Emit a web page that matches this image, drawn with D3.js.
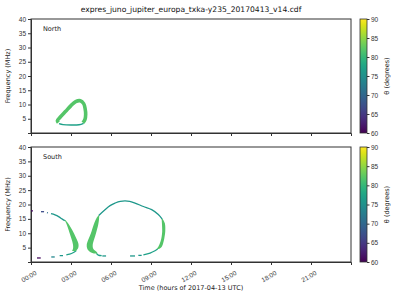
<!DOCTYPE html>
<html>
<head>
<meta charset="utf-8">
<script src="https://cdn.jsdelivr.net/npm/d3@7"></script>
<style>
  body { margin: 0; background: #fff; }
  svg { display: block; font-family: "DejaVu Sans", sans-serif; }
  .axis text { font-size: 6.5px; fill: #333; }
  .axis path, .axis line { stroke: #333; }
</style>
</head>
<body>
<svg id="chart" width="400" height="300"></svg>
<script>
// ---- data ----
const timeTicks  = [0, 3, 6, 9, 12, 15, 18, 21];          // hours
const freqTicks  = [5, 10, 15, 20, 25, 30, 35, 40];       // MHz
const thetaTicks = [60, 65, 70, 75, 80, 85, 90];          // degrees

// North: emission loop, [hour, MHz]
const northLoop = [
  [2.05, 3.6], [1.98, 4.3], [2.2, 5.6], [2.6, 7.6], [3.0, 9.6], [3.35, 11.0],
  [3.7, 11.3], [3.95, 10.3], [4.06, 8.5], [4.1, 6.5], [4.05, 4.8], [3.9, 3.6]
];
const northLoopTheta = 82;
const northBottom = [[2.1, 3.3], [2.4, 2.95], [3.0, 2.8], [3.6, 2.9], [3.95, 3.4]];
const northBottomTheta = 77;

// South: thick parts as frequency bands [MHz, hourStart, hourEnd]
const southBandA = [
  [14.6, 2.52, 2.58], [13.5, 2.64, 2.78], [12.0, 2.76, 2.98], [10.0, 2.9, 3.22],
  [8.0, 3.04, 3.42], [6.3, 3.14, 3.56], [4.9, 3.16, 3.54], [3.8, 3.08, 3.36]
];
const southBandB = [
  [16.2, 5.04, 5.12], [14.8, 4.86, 5.1], [13.0, 4.7, 5.04], [10.1, 4.5, 4.88],
  [7.8, 4.3, 4.73], [6.0, 4.18, 4.63], [4.6, 4.22, 4.67], [3.5, 4.43, 4.93], [3.0, 4.7, 5.0]
];
const southBandC = [
  [15.0, 9.8, 9.88], [13.5, 9.82, 10.04], [10.6, 9.84, 10.07], [8.9, 9.8, 10.02],
  [7.2, 9.72, 9.95], [5.4, 9.56, 9.82], [4.5, 9.42, 9.6]
];
const southBandTheta = 82;

// South: thin traces, each with its theta
const southTraces = [
  { theta: 61, pts: [[0.0, 17.8], [0.15, 17.8]] },
  { theta: 67, pts: [[0.75, 17.5], [0.98, 17.5]] },
  { theta: 71, pts: [[1.2, 17.2], [1.27, 17.1]] },
  { theta: 76, pts: [[1.5, 16.8], [1.8, 16.4], [2.1, 15.7], [2.35, 14.9], [2.54, 14.4]] },
  { theta: 77, pts: [[3.4, 4.0], [3.15, 3.2], [2.9, 2.75], [2.65, 2.5]] },
  { theta: 76, pts: [[2.15, 2.2], [2.4, 2.25]] },
  { theta: 74, pts: [[1.52, 1.75], [1.78, 1.75]] },
  { theta: 61, pts: [[0.45, 1.4], [0.73, 1.4]] },
  { theta: 76, pts: [[5.08, 16.2], [5.55, 18.2], [5.93, 19.6], [6.3, 20.5], [6.7, 21.1],
                     [7.4, 21.1], [7.8, 20.5], [8.43, 19.3], [9.05, 18.2], [9.55, 16.5], [9.84, 14.9]] },
  { theta: 77, pts: [[9.5, 4.5], [9.3, 3.9], [8.93, 3.1], [8.43, 2.5]] },
  { theta: 76, pts: [[8.05, 2.3], [8.3, 2.3]] },
  { theta: 76, pts: [[7.43, 2.1], [7.8, 2.1]] },
  { theta: 77, pts: [[4.9, 3.0], [5.05, 2.4], [5.3, 2.2]] },
  { theta: 76, pts: [[5.35, 2.1], [5.63, 2.1]] }
];

// ---- layout ----
const svg = d3.select('#chart');
const left = 31, right = 351;
const panels = [
  { name: 'North', top: 19, bottom: 133 },
  { name: 'South', top: 147, bottom: 262 }
];
const cbX = 360, cbW = 7;

const x = d3.scaleLinear().domain([0, 24]).range([left, right]);
const color = d3.scaleSequential(d3.interpolateViridis).domain([60, 90]);

// gradient for the colour bars
const grad = svg.append('defs').append('linearGradient')
  .attr('id', 'viridis').attr('x1', 0).attr('y1', 1).attr('x2', 0).attr('y2', 0);
d3.range(0, 1.0001, 0.05).forEach(t => {
  grad.append('stop').attr('offset', t).attr('stop-color', d3.interpolateViridis(t));
});

svg.append('text')
  .attr('x', (left + right) / 2).attr('y', 12)
  .attr('text-anchor', 'middle')
  .style('font-size', '7.6px').style('fill', '#111')
  .text('expres_juno_jupiter_europa_txka-y235_20170413_v14.cdf');

svg.append('text')
  .attr('x', (left + right) / 2).attr('y', 290)
  .attr('text-anchor', 'middle')
  .style('font-size', '6.5px').style('fill', '#222')
  .text('Time (hours of 2017-04-13 UTC)');

panels.forEach((p, pi) => {
  const y = d3.scaleLinear().domain([0, 40]).range([p.bottom, p.top]);
  p.y = y;
  const g = svg.append('g');

  // y axis
  g.append('g').attr('class', 'axis')
    .attr('transform', `translate(${left},0)`)
    .call(d3.axisLeft(y).tickValues(freqTicks).tickSize(3).tickPadding(2));

  // x axis
  const xa = g.append('g').attr('class', 'axis')
    .attr('transform', `translate(0,${p.bottom})`)
    .call(d3.axisBottom(x).tickValues(timeTicks).tickSize(3).tickPadding(2)
      .tickFormat(d => d3.format('02')(d) + ':00'));
  if (pi === 0) {
    xa.selectAll('text').remove();
  } else {
    xa.selectAll('text')
      .attr('text-anchor', 'end')
      .attr('dy', '0.35em')
      .attr('transform', 'translate(2,6) rotate(-30)');
  }

  // frame
  g.append('rect')
    .attr('x', left).attr('y', p.top)
    .attr('width', right - left).attr('height', p.bottom - p.top)
    .attr('fill', 'none').attr('stroke', '#333').attr('stroke-width', 1);

  g.append('text')
    .attr('transform', `translate(10,${(p.top + p.bottom) / 2}) rotate(-90)`)
    .attr('text-anchor', 'middle')
    .style('font-size', '6.5px').style('fill', '#222')
    .text('Frequency (MHz)');

  g.append('text')
    .attr('x', 43).attr('y', p.top + 12)
    .style('font-size', '6.5px').style('fill', '#222')
    .text(p.name);

  // colour bar
  const cy = d3.scaleLinear().domain([60, 90]).range([p.bottom, p.top]);
  g.append('rect')
    .attr('x', cbX).attr('y', p.top)
    .attr('width', cbW).attr('height', p.bottom - p.top)
    .attr('fill', 'url(#viridis)').attr('stroke', '#333').attr('stroke-width', 0.8);
  g.append('g').attr('class', 'axis')
    .attr('transform', `translate(${cbX + cbW},0)`)
    .call(d3.axisRight(cy).tickValues(thetaTicks).tickSize(2.5).tickPadding(1.5))
    .call(a => a.select('.domain').remove());
  g.append('text')
    .attr('transform', `translate(389,${(p.top + p.bottom) / 2}) rotate(-90)`)
    .attr('text-anchor', 'middle')
    .style('font-size', '6.5px').style('fill', '#222')
    .text('θ (degrees)');
});

// ---- emission ----
const yN = panels[0].y, yS = panels[1].y;
const line = yy => d3.line().x(d => x(d[0])).y(d => yy(d[1])).curve(d3.curveCatmullRom);

svg.append('path')
  .attr('d', line(yN)(northBottom))
  .attr('fill', 'none').attr('stroke', color(northBottomTheta)).attr('stroke-width', 1.4);
svg.append('path')
  .attr('d', line(yN)(northLoop))
  .attr('fill', 'none').attr('stroke', color(northLoopTheta))
  .attr('stroke-width', 3.6).attr('stroke-linejoin', 'round');

const band = d3.area()
  .y(d => yS(d[0])).x0(d => x(d[1])).x1(d => x(d[2]))
  .curve(d3.curveCatmullRom);

svg.selectAll('.trace').data(southTraces).join('path')
  .attr('class', 'trace')
  .attr('d', d => line(yS)(d.pts))
  .attr('fill', 'none').attr('stroke', d => color(d.theta)).attr('stroke-width', 1.3);

svg.selectAll('.band').data([southBandA, southBandB, southBandC]).join('path')
  .attr('class', 'band')
  .attr('d', band)
  .attr('fill', color(southBandTheta));
</script>
</body>
</html>
